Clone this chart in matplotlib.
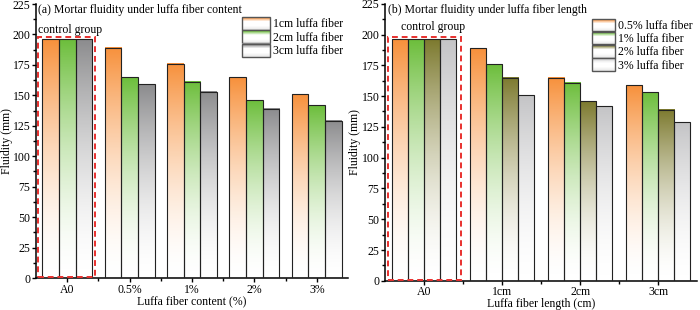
import numpy as np
import matplotlib
matplotlib.use('Agg')
import matplotlib.pyplot as plt
from matplotlib.colors import LinearSegmentedColormap
from matplotlib.patches import Rectangle
from matplotlib.legend_handler import HandlerBase
from matplotlib.ticker import MultipleLocator

# ================== data ==================
content_cats = ['A0', '0.5%', '1%', '2%', '3%']
content_series = ['1cm luffa fiber', '2cm luffa fiber', '3cm luffa fiber']
fluidity_1cm = [196, 189, 176, 165, 151]
fluidity_2cm = [196, 165, 161, 146, 142]
fluidity_3cm = [196, 159, 153, 139, 129]

length_cats = ['A0', '1cm', '2cm', '3cm']
length_series = ['0.5% luffa fiber', '1% luffa fiber', '2% luffa fiber', '3% luffa fiber']
fluidity_05 = [196, 189, 165, 159]
fluidity_1 = [196, 176, 161, 153]
fluidity_2 = [196, 165, 146, 139]
fluidity_3 = [196, 151, 142, 129]

colors_a = ['#F7913C', '#6DBE3C', '#8C8C8E']
colors_b = ['#F7913C', '#6DBE3C', '#7D7A2F', '#C4C4C6']

plt.rcParams['font.family'] = ['Liberation Serif', 'DejaVu Serif']
plt.rcParams['font.size'] = 8.5


def cmap_for(color):
    return LinearSegmentedColormap.from_list('g', ['white', color])


class GradientHandler(HandlerBase):
    def __init__(self, color):
        super().__init__()
        self.color = color

    def create_artists(self, legend, orig_handle, xdescent, ydescent,
                       width, height, fontsize, trans):
        cmap = LinearSegmentedColormap.from_list('g', ['#e8e8e8', 'white', 'white', self.color])
        arts = []
        n = 24
        for i in range(n):
            r = Rectangle((-xdescent, -ydescent + height * i / n), width, height / n + 0.3,
                          facecolor=cmap(i / (n - 1)), edgecolor='none', transform=trans)
            arts.append(r)
        arts.append(Rectangle((-xdescent, -ydescent), width, height, facecolor='none',
                              edgecolor='#555555', lw=1.0, transform=trans))
        return arts


def gradient_bars(ax, x, series, colors, labels, width):
    n = len(series)
    # colour strength grows towards the top of each bar
    grad = (np.linspace(0, 1, 256) ** 1.7).reshape(-1, 1)
    handles = []
    for i, (vals, c, lab) in enumerate(zip(series, colors, labels)):
        pos = np.arange(len(x)) + (i - (n - 1) / 2) * width
        bars = ax.bar(pos, vals, width, facecolor='none', edgecolor='#222222',
                      lw=0.8, zorder=3, label=lab)
        for b in bars:
            x0 = b.get_x()
            ax.imshow(grad, extent=[x0, x0 + b.get_width(), 0, b.get_height()],
                      origin='lower', aspect='auto', cmap=cmap_for(c),
                      vmin=0, vmax=1, zorder=2)
        handles.append(bars)
    return handles


def style_axis(ax, cats):
    ax.set_xlim(-0.5, len(cats) - 0.5)
    ax.set_ylim(0, 225)
    ax.set_xticks(np.arange(len(cats)))
    ax.set_xticklabels(cats)
    ax.set_xticks(np.arange(len(cats) - 1) + 0.5, minor=True)
    ax.yaxis.set_major_locator(MultipleLocator(25))
    ax.yaxis.set_minor_locator(MultipleLocator(12.5))
    ax.spines['top'].set_visible(False)
    ax.spines['right'].set_visible(False)
    ax.spines['left'].set_linewidth(1.1)
    ax.spines['bottom'].set_linewidth(1.1)
    ax.tick_params(direction='out', length=3, width=1, labelsize=8.5, pad=1)
    ax.tick_params(which='minor', direction='out', length=2, width=1)
    ax.set_ylabel('Fluidity (mm)', fontsize=8.5)


fig = plt.figure(figsize=(7, 3.1), dpi=100)
ax1 = fig.add_axes([0.0514, 0.103, 0.4457, 0.884])
ax2 = fig.add_axes([0.55, 0.094, 0.446, 0.894])

# ---- (a) ----
h1 = gradient_bars(ax1, content_cats, [fluidity_1cm, fluidity_2cm, fluidity_3cm],
                   colors_a, content_series, 0.267)
style_axis(ax1, content_cats)
ax1.yaxis.set_label_coords(-0.075, 0.5)
ax1.set_xlabel('Luffa fiber content (%)', fontsize=8.5, labelpad=0)
ax1.text(0.005, 1.0, '(a) Mortar fluidity under luffa fiber content',
         transform=ax1.transAxes, va='top', ha='left', fontsize=8.5)
ax1.add_patch(Rectangle((-0.47, 0.8), 0.91, 197.5, fill=False, edgecolor='#E8302E',
                        ls=(0, (3, 2)), lw=1.4, zorder=5, clip_on=False))
ax1.text(-0.47, 204, 'control group', fontsize=8.5, ha='left', va='center')
ax1.legend(h1, content_series, loc='upper right', bbox_to_anchor=(1.0, 0.97),
           frameon=False, fontsize=8.5, handlelength=2.3, handleheight=1.32,
           labelspacing=0.0, handletextpad=0.3, borderaxespad=0.0,
           handler_map={h: GradientHandler(c) for h, c in zip(h1, colors_a)})

# ---- (b) ----
h2 = gradient_bars(ax2, length_cats, [fluidity_05, fluidity_1, fluidity_2, fluidity_3],
                   colors_b, length_series, 0.205)
style_axis(ax2, length_cats)
ax2.yaxis.set_label_coords(-0.077, 0.5)
ax2.set_xlabel('Luffa fiber length (cm)', fontsize=8.5, labelpad=0)
ax2.text(0.01, 1.0, '(b) Mortar fluidity under luffa fiber length',
         transform=ax2.transAxes, va='top', ha='left', fontsize=8.5)
ax2.add_patch(Rectangle((-0.46, 0.8), 0.935, 197.5, fill=False, edgecolor='#E8302E',
                        ls=(0, (3, 2)), lw=1.4, zorder=5, clip_on=False))
ax2.text(0.11, 206, 'control group', fontsize=8.5, ha='center', va='center')
ax2.legend(h2, length_series, loc='upper right', bbox_to_anchor=(1.0, 0.962),
           frameon=False, fontsize=8.5, handlelength=2.0, handleheight=1.23,
           labelspacing=0.0, handletextpad=0.2, borderaxespad=0.0,
           handler_map={h: GradientHandler(c) for h, c in zip(h2, colors_b)})

plt.savefig('out.png', dpi=100)
